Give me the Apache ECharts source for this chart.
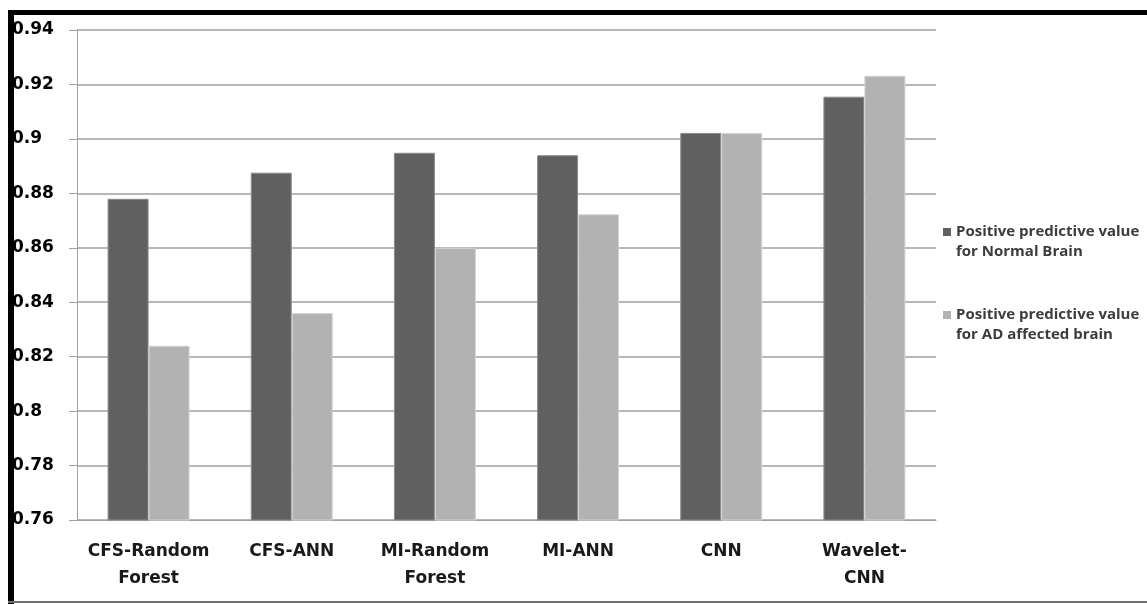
<!DOCTYPE html>
<html>
<head>
<meta charset="utf-8">
<script src="https://cdn.jsdelivr.net/npm/echarts@6/dist/echarts.min.js"></script>
<style>
  html, body { margin: 0; padding: 0; background: #fff; }
  #chart { width: 1147px; height: 604px; }
</style>
</head>
<body>
<div id="chart"></div>
<script>
// Classifier names on the category axis
const categories = ['CFS-Random\nForest', 'CFS-ANN', 'MI-Random\nForest', 'MI-ANN', 'CNN', 'Wavelet-\nCNN'];

// Positive predictive value per classifier
const normalBrain = [0.878, 0.8876, 0.8949, 0.894, 0.9022, 0.9155];
const adBrain = [0.824, 0.836, 0.86, 0.8723, 0.9022, 0.9232];

// Series names shown in the legend
const seriesNames = [
  'Positive predictive value\nfor Normal Brain',
  'Positive predictive value\nfor AD affected brain'
];

// Value axis range
const yMin = 0.76;
const yMax = 0.94;
const yStep = 0.02;

const chart = echarts.init(document.getElementById('chart'), null, { renderer: 'canvas' });

const axisFont = {
  fontFamily: 'DejaVu Sans',
  fontWeight: 'bold',
  fontSize: 17,
  color: '#1a1a1a'
};

// Legend swatch: an 8x8 square sitting at the top of a 8x28 box,
// so it lines up with the first line of a two-line legend entry.
const swatchIcon = 'path://M0,0L8,0L8,8L0,8ZM0,28L8,28';

chart.setOption({
  animation: false,
  backgroundColor: '#ffffff',
  grid: { left: 77, right: 211, top: 30, bottom: 84, containLabel: false },
  legend: {
    orient: 'vertical',
    left: 943,
    top: 222,
    padding: 0,
    itemWidth: 8,
    itemHeight: 28,
    itemGap: 43,
    icon: swatchIcon,
    itemStyle: { borderWidth: 0 },
    selectedMode: false,
    textStyle: {
      fontFamily: 'Open Sans',
      fontWeight: 'bold',
      fontSize: 15,
      color: '#3c3c3c',
      lineHeight: 20
    },
    data: seriesNames
  },
  xAxis: {
    type: 'category',
    data: categories,
    axisLine: { lineStyle: { color: '#a0a0a0', width: 1 } },
    axisTick: { length: 8, lineStyle: { color: '#a0a0a0' } },
    axisLabel: Object.assign({ margin: 18, lineHeight: 27, interval: 0 }, axisFont)
  },
  yAxis: {
    type: 'value',
    min: yMin,
    max: yMax,
    interval: yStep,
    axisLine: { show: true, lineStyle: { color: '#a0a0a0', width: 1 } },
    axisTick: { show: true, length: 8, lineStyle: { color: '#a0a0a0' } },
    splitLine: { lineStyle: { color: '#a0a0a0', width: 1.5 } },
    axisLabel: Object.assign({
      align: 'left',
      margin: 65,
      formatter: v => String(Number(v.toFixed(2)))
    }, axisFont, { color: '#000' })
  },
  series: [
    {
      name: seriesNames[0],
      type: 'bar',
      data: normalBrain,
      barWidth: 41,
      barGap: '0%',
      itemStyle: { color: '#606060', borderColor: '#8c8c8c', borderWidth: 1 }
    },
    {
      name: seriesNames[1],
      type: 'bar',
      data: adBrain,
      barWidth: 41,
      barGap: '0%',
      itemStyle: { color: '#b2b2b2', borderColor: '#d4d4d4', borderWidth: 1 }
    }
  ],
  graphic: [
    // frame around the figure
    { type: 'rect', left: 8, top: 10, shape: { width: 1139, height: 5 }, style: { fill: '#000' }, z: 100 },
    { type: 'rect', left: 8, top: 10, shape: { width: 6, height: 594 }, style: { fill: '#000' }, z: 100 },
    { type: 'rect', left: 8, top: 601, shape: { width: 1139, height: 2 }, style: { fill: '#707070' }, z: 100 }
  ]
});
</script>
</body>
</html>
